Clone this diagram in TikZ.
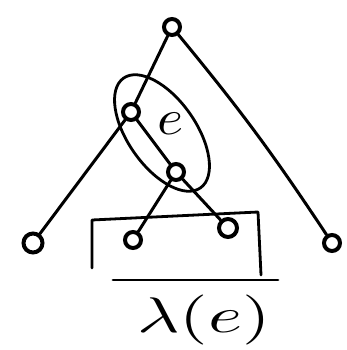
\documentclass[tikz,border=0pt]{standalone}
\usepackage{graphicx}
\begin{document}
\begin{tikzpicture}[x=1pt,y=-1pt,
  vert/.style={circle,draw,line width=4pt,minimum size=16pt,inner sep=0pt},
  edge/.style={line width=3pt,line cap=round},
  stroke/.style={line width=2.8pt,line cap=round,line join=round}]
\useasboundingbox (0,0) rectangle (346,350);
\node[vert] (r) at (172,27) {};
\node[vert] (a) at (131,112) {};
\node[vert] (b) at (176,172) {};
\node[vert,minimum size=19pt] (l) at (33,243) {};
\node[vert] (rr) at (332,243) {};
\node[vert] (c) at (133,240) {};
\node[vert,minimum size=18pt] (d) at (228,228) {};
\draw[edge] (r) -- (a);
\draw[edge] (r) to[bend left=3] (rr);
\draw[edge] (a) -- (l);
\draw[edge] (a) -- (b);
\draw[edge] (b) -- (c);
\draw[edge] (b) -- (d);
\draw[stroke,rotate around={-55:(162,133)}] (162,133) ellipse (67 and 34);
\draw[stroke] (92,268) -- (92,220) -- (258,212) -- (261,275);
\draw[stroke] (113,280) -- (278,280);
\node (e) at (171,124) {\scalebox{5.6}[5]{$e$}};
\node (lam) at (204,320) {\scalebox{7.3}[5]{$\lambda(e)$}};
\end{tikzpicture}
\end{document}
